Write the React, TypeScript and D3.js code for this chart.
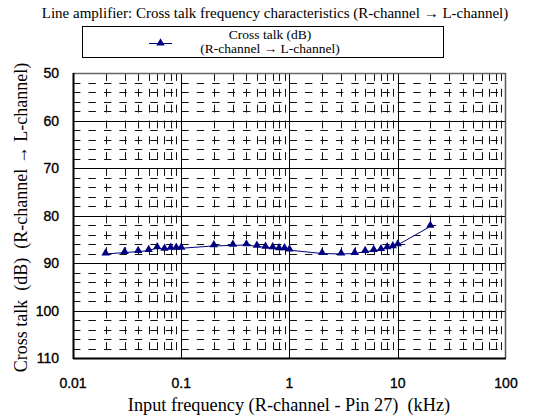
import React from 'react';
import * as d3 from 'd3';

// Input frequency (kHz) and cross talk (dB)
const freqs = [0.02, 0.03, 0.04, 0.05, 0.06, 0.07, 0.08, 0.09, 0.1,
  0.2, 0.3, 0.4, 0.5, 0.6, 0.7, 0.8, 0.9, 1,
  2, 3, 4, 5, 6, 7, 8, 9, 10, 20];
const crossTalk = [88.1, 87.8, 87.6, 87.4, 86.8, 87.1, 86.9, 86.9, 86.9,
  86.4, 86.3, 86.2, 86.5, 86.7, 86.8, 87.0, 87.0, 87.3,
  88.0, 88.1, 88.0, 87.6, 87.4, 87.2, 86.8, 86.6, 86.2, 82.3];
const xTicks = [0.01, 0.1, 1, 10, 100];
const yTicks = [50, 60, 70, 80, 90, 100, 110];

const W = 551;
const H = 419;
const margin = { top: 73, right: 45, bottom: 61, left: 73 };

export default function App() {
  const x = d3.scaleLog().domain([0.01, 100]).range([margin.left, W - margin.right]);
  const y = d3.scaleLinear().domain([50, 110]).range([margin.top, H - margin.bottom]);

  const [x0, x1] = x.range();
  const [y0, y1] = y.range();

  // minor grid: 2..9 in each decade, every 2 dB
  const minorX: number[] = [];
  for (let d = 0.01; d < 100; d *= 10) {
    for (let k = 2; k <= 9; k++) minorX.push(d * k);
  }
  const minorY = d3.range(52, 110, 2).filter((v) => v % 10 !== 0);

  // dash periods follow the grid: a third of a 10 dB band, a seventh of a decade
  const vPeriod = (y(60) - y(50)) / 3;
  const hPeriod = (x(0.1) - x(0.01)) / 7;

  const line = d3.line<number>()
    .x((_, i) => x(freqs[i]))
    .y((d) => y(d));

  const tri = d3.symbol(d3.symbolTriangle, 30)();
  const sans = 'Liberation Sans, Arial, sans-serif';
  const serif = 'Liberation Serif, Times New Roman, serif';

  return (
    <svg width={W} height={H} style={{ position: 'absolute', left: 0, top: 0 }}>
      <rect width={W} height={H} fill="#fff" />

      <text x={275} y={18} textAnchor="middle" fontFamily={serif} fontSize={15}>
        Line amplifier: Cross talk frequency characteristics (R-channel → L-channel)
      </text>

      {/* legend */}
      <rect x={82.5} y={26.5} width={361} height={31} fill="#fff" stroke="#000" />
      <line x1={149} x2={172} y1={43.5} y2={43.5} stroke="#000080" strokeWidth={1} />
      <path d={tri} transform="translate(160.5,43)" fill="#000080" />
      <text x={270} y={39} textAnchor="middle" fontFamily={serif} fontSize={13.5}>Cross talk (dB)</text>
      <text x={270} y={53} textAnchor="middle" fontFamily={serif} fontSize={13.5}>(R-channel → L-channel)</text>

      {/* minor grid */}
      <g stroke="#111" strokeWidth={1}>
        {minorY.map((v) => (
          <line key={'my' + v} x1={x0} x2={x1} y1={Math.round(y(v)) + 0.5} y2={Math.round(y(v)) + 0.5}
            strokeDasharray={`${hPeriod * 0.48},${hPeriod * 0.52}`} />
        ))}
        {minorX.map((v) => (
          <line key={'mx' + v} x1={Math.round(x(v)) + 0.5} x2={Math.round(x(v)) + 0.5} y1={y0} y2={y1}
            strokeDasharray={`${vPeriod * 0.5},${vPeriod * 0.5}`} />
        ))}
      </g>

      {/* major grid */}
      <g stroke="#000" strokeWidth={1}>
        {yTicks.slice(1, -1).map((v) => (
          <line key={'Y' + v} x1={x0} x2={x1} y1={Math.round(y(v)) + 0.5} y2={Math.round(y(v)) + 0.5} />
        ))}
        {xTicks.slice(1, -1).map((v) => (
          <line key={'X' + v} x1={Math.round(x(v)) + 0.5} x2={Math.round(x(v)) + 0.5} y1={y0} y2={y1} />
        ))}
      </g>

      {/* frame */}
      <line x1={x0} x2={x1} y1={y0 + 0.5} y2={y0 + 0.5} stroke="#666" strokeWidth={1.5} />
      <line x1={x1 - 0.5} x2={x1 - 0.5} y1={y0} y2={y1} stroke="#555" strokeWidth={1.5} />
      <line x1={x0 + 0.5} x2={x0 + 0.5} y1={y0} y2={y1 + 1} stroke="#000" strokeWidth={2} />
      <line x1={x0} x2={x1} y1={y1 + 0.5} y2={y1 + 0.5} stroke="#000" strokeWidth={2} />

      {/* series */}
      <path d={line(crossTalk) ?? ''} fill="none" stroke="#000080" strokeWidth={1} />
      {crossTalk.map((v, i) => (
        <path key={i} d={tri} transform={`translate(${x(freqs[i])},${y(v) - 1})`} fill="#000080" />
      ))}

      {/* tick labels, drawn a bit heavy like the source */}
      <g fontFamily={sans} fontSize={14} fill="#000" stroke="#000" strokeWidth={0.35}>
        {yTicks.map((v) => (
          <text key={'yl' + v} x={59} y={y(v)} dy="0.36em" textAnchor="end">{v}</text>
        ))}
        {xTicks.map((v) => (
          <text key={'xl' + v} x={x(v)} y={388} textAnchor="middle">{String(v)}</text>
        ))}
      </g>

      {/* axis titles */}
      <text x={289} y={411} textAnchor="middle" fontFamily={serif} fontSize={18.3} style={{ whiteSpace: 'pre' }}>
        {'Input frequency (R-channel - Pin 27)  (kHz)'}
      </text>
      <text transform={`translate(27,${(y0 + y1) / 2 + 2}) rotate(-90)`} textAnchor="middle"
        fontFamily={serif} fontSize={18} style={{ whiteSpace: 'pre' }}>
        {'Cross talk  (dB)  (R-channel → L-channel)'}
      </text>
    </svg>
  );
}
